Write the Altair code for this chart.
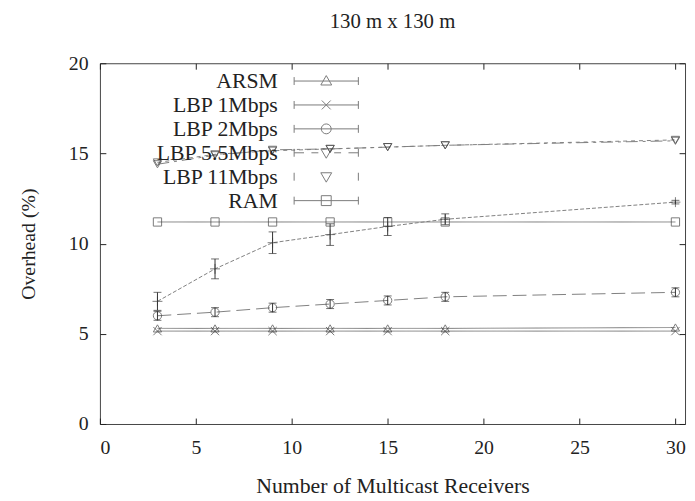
import altair as alt
import pandas as pd

# ---- data ----
receivers = [3, 6, 9, 12, 15, 18, 30]
arsm = [5.3, 5.3, 5.3, 5.3, 5.3, 5.3, 5.35]
lbp1 = [5.15, 5.15, 5.15, 5.15, 5.15, 5.15, 5.15]
lbp2 = [6.0, 6.2, 6.45, 6.65, 6.85, 7.05, 7.3]
lbp55 = [14.4, 14.9, 15.2, 15.25, 15.35, 15.45, 15.7]
lbp11 = [14.5, 14.95, 15.15, 15.25, 15.35, 15.45, 15.75]
ram = [11.2, 11.2, 11.2, 11.2, 11.2, 11.2, 11.2]
unkeyed = [6.8, 8.6, 10.05, 10.5, 10.95, 11.35, 12.3]
unkeyed_err = [0.5, 0.55, 0.6, 0.6, 0.5, 0.3, 0.1]
lbp2_err = [0.25, 0.25, 0.25, 0.25, 0.25, 0.25, 0.25]

series_names = ["ARSM", "LBP 1Mbps", "LBP 2Mbps", "LBP 5.5Mbps", "LBP 11Mbps", "RAM", "(no key)"]
series_values = [arsm, lbp1, lbp2, lbp55, lbp11, ram, unkeyed]
shapes = ["triangle-up", "M-1,-1L1,1M-1,1L1,-1", "circle", "triangle-down",
          "triangle-down", "square", "M-1.2,0H1.2M0,-1.2V1.2"]
dashes = [[1, 0], [1, 0], [14, 6], [12, 5, 3, 5], [4, 4], [1, 0], [4, 2]]

rows = []
for name, vals in zip(series_names, series_values):
    for xv, yv in zip(receivers, vals):
        rows.append({"series": name, "receivers": xv, "overhead": yv})
df = pd.DataFrame(rows)

err_rows = []
for name, vals, errs in [("(no key)", unkeyed, unkeyed_err), ("LBP 2Mbps", lbp2, lbp2_err)]:
    for xv, yv, e in zip(receivers, vals, errs):
        err_rows.append({"series": name, "receivers": xv, "lo": yv - e, "hi": yv + e})
err = pd.DataFrame(err_rows)

# legend symbols: key sample line with errorbar end ticks and the point glyph,
# drawn to the right of the (right-aligned) label
S = 12.0  # horizontal shift of the key sample, in symbol units


def f(v):
    return f"{v:g}"


def hseg(a, b):
    return f"M{f(S + a)},0H{f(S + b)}"


tick = f"M{f(S - 6.5)},-0.8V0.8M{f(S + 6.5)},-0.8V0.8"
solid = hseg(-6.5, 6.5)
tri_up = f"M{f(S)},-1.1L{f(S + 1.1)},0.8H{f(S - 1.1)}Z"
tri_dn = f"M{f(S)},1.1L{f(S + 1.1)},-0.8H{f(S - 1.1)}Z"
xmark = f"M{f(S - 0.9)},-0.9L{f(S + 0.9)},0.9M{f(S - 0.9)},0.9L{f(S + 0.9)},-0.9"
circ = f"M{f(S + 1)},0A1,1 0 1,1 {f(S - 1)},0A1,1 0 1,1 {f(S + 1)},0Z"
sq = f"M{f(S - 1)},-1H{f(S + 1)}V1H{f(S - 1)}Z"
dashed = hseg(-6.5, -4.5) + hseg(-3, -1.6) + hseg(1.6, 3) + hseg(4.5, 6.5)

legend_names = series_names[:6]
legend_paths = [solid + tick + tri_up, solid + tick + xmark, solid + tick + circ,
                dashed + tick + tri_dn, tick + tri_dn, solid + tick + sq]

W, H = 592, 365
FONT = "Liberation Serif"

xscale = alt.Scale(domain=[0, 30.5], nice=False)
yscale = alt.Scale(domain=[0, 20], nice=False)
tick_vals_x = [0, 5, 10, 15, 20, 25, 30]
tick_vals_y = [0, 5, 10, 15, 20]

base = alt.Chart(df)

lines = base.mark_line(strokeWidth=1, color="#808080").encode(
    x=alt.X("receivers:Q", scale=xscale,
            title="Number of Multicast Receivers",
            axis=alt.Axis(values=tick_vals_x, tickSize=0, grid=False, domain=False,
                          labelFont=FONT, labelFontSize=20, labelColor="#222",
                          labelPadding=14, titleFont=FONT, titleFontSize=22,
                          titleFontWeight="normal", titleColor="#222", titlePadding=18)),
    y=alt.Y("overhead:Q", scale=yscale, title="Overhead (%)",
            axis=alt.Axis(values=tick_vals_y, tickSize=0, grid=False, domain=False,
                          labelFont=FONT, labelFontSize=20, labelColor="#222",
                          labelPadding=12, titleFont=FONT, titleFontSize=20,
                          titleFontWeight="normal", titleColor="#222", titlePadding=30)),
    strokeDash=alt.StrokeDash("series:N", scale=alt.Scale(domain=series_names, range=dashes),
                              legend=None),
    order="receivers:Q",
)

points = base.mark_point(filled=False, color="#444", size=70, strokeWidth=1).encode(
    x=alt.X("receivers:Q", scale=xscale,
            axis=alt.Axis(orient="top", offset=-H, values=tick_vals_x, labels=False,
                          tickSize=6, tickColor="#222", domain=False, grid=False, title=None)),
    y=alt.Y("overhead:Q", scale=yscale,
            axis=alt.Axis(orient="right", offset=-W, values=tick_vals_y, labels=False,
                          tickSize=6, tickColor="#222", domain=False, grid=False, title=None)),
    shape=alt.Shape("series:N", scale=alt.Scale(domain=series_names, range=shapes), legend=None),
)

bars = alt.Chart(err).mark_errorbar(ticks=True, color="#333", thickness=1, size=8).encode(
    x=alt.X("receivers:Q", scale=xscale,
            axis=alt.Axis(orient="bottom", offset=-H, values=tick_vals_x, labels=False,
                          tickSize=6, tickColor="#222", domain=False, grid=False, title=None)),
    y=alt.Y("lo:Q", scale=yscale,
            axis=alt.Axis(orient="left", offset=-W, values=tick_vals_y, labels=False,
                          tickSize=6, tickColor="#222", domain=False, grid=False, title=None)),
    y2="hi:Q",
)

legend_layer = alt.Chart(df).transform_calculate(key="datum.series").transform_filter(
    "false").mark_point(filled=False, color="#444", strokeWidth=1).encode(
    shape=alt.Shape("key:N", scale=alt.Scale(domain=legend_names, range=legend_paths),
                    legend=alt.Legend(orient="none", legendX=158, legendY=7, title=None,
                                      labelAlign="right", labelOffset=0, labelFont=FONT,
                                      labelFontSize=22, labelColor="#222", labelLimit=300,
                                      symbolSize=100, symbolStrokeWidth=1,
                                      symbolStrokeColor="#444", rowPadding=2.2, padding=0)),
)

chart = alt.layer(lines, points, bars, legend_layer).resolve_scale(
    shape="independent").resolve_axis(x="independent", y="independent").properties(
    width=W, height=H,
    title=alt.TitleParams("130 m x 130 m", font=FONT, fontSize=21, fontWeight="normal",
                          color="#222", offset=22),
    autosize=alt.AutoSizeParams(type="none"),
    padding={"left": 93, "top": 53, "right": 2, "bottom": 74},
).configure_view(stroke="#444", strokeWidth=1)

chart.save("out.html", embed_options={"renderer": "svg", "actions": False})
